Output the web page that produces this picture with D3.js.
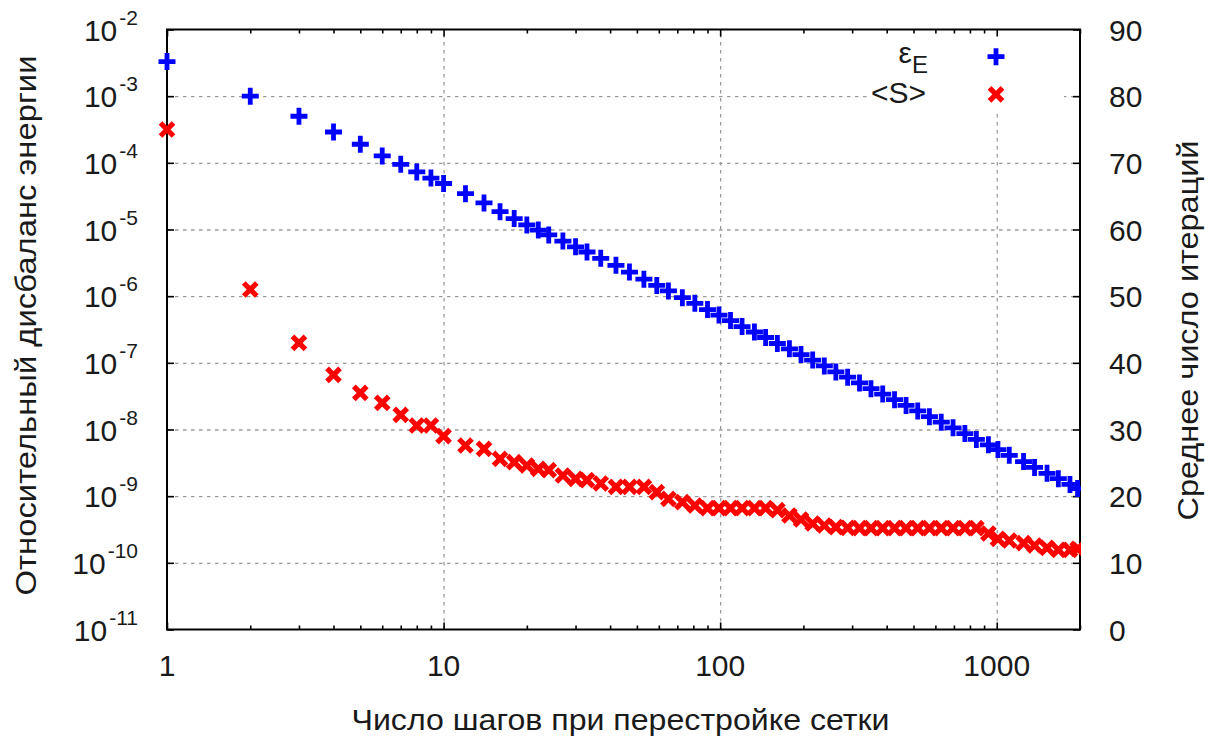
<!DOCTYPE html>
<html>
<head>
<meta charset="utf-8">
<script src="https://cdn.jsdelivr.net/npm/d3@7/dist/d3.min.js"></script>
<style>
  body { margin: 0; background: #fff; }
  text { font-family: 'Liberation Sans', Arial, sans-serif; fill: #1a1a1a; }
  .grid line { stroke: #9a9a9a; stroke-width: 1.3; stroke-dasharray: 3.5, 4.5; }
  .grid path { display: none; }
  .axis path { display: none; }
  .axis line { stroke: #000; stroke-width: 1.6; }
</style>
</head>
<body>
<svg id="chart"></svg>
<script>
// x: number of steps between mesh rebuilds
var steps = [1, 2, 3, 4, 5, 6, 7, 8, 9, 10,
  12, 14, 16, 18, 20, 22, 24, 27, 30, 33,
  37, 42, 47, 53, 59, 65, 73, 81,
  90, 99, 109, 120, 133, 146, 161, 178, 196, 216,
  238, 262, 289, 319, 351, 387, 427, 470, 518, 571,
  630, 695, 767, 844, 933, 1010, 1110, 1250, 1370, 1520,
  1670, 1840, 1960];

// eps_E, left (log) axis
var energyImbalance = [3.3e-3, 1.0e-3, 5.0e-4, 2.9e-4, 1.9e-4, 1.27e-4, 9.5e-5, 7.3e-5, 5.9e-5, 4.9e-5,
  3.45e-5, 2.5e-5, 1.85e-5, 1.46e-5, 1.17e-5, 9.8e-6, 8.3e-6, 6.7e-6, 5.5e-6, 4.6e-6,
  3.7e-6, 2.9e-6, 2.3e-6, 1.8e-6, 1.45e-6, 1.2e-6, 9.5e-7, 7.8e-7,
  6.3e-7, 5.2e-7, 4.3e-7, 3.5e-7, 2.9e-7, 2.4e-7, 1.95e-7, 1.62e-7, 1.33e-7, 1.1e-7,
  9.0e-8, 7.3e-8, 6.1e-8, 5.0e-8, 4.1e-8, 3.4e-8, 2.8e-8, 2.3e-8, 1.9e-8, 1.56e-8,
  1.29e-8, 1.06e-8, 8.7e-9, 7.1e-9, 5.9e-9, 5.0e-9, 4.1e-9, 3.3e-9, 2.7e-9, 2.2e-9,
  1.83e-9, 1.5e-9, 1.3e-9];

// <S>, right (linear) axis
var meanIterations = [75, 51, 43, 38.2, 35.5, 34.0, 32.2, 30.6, 30.6, 29.0,
  27.6, 27.1, 25.6, 25.1, 24.6, 24.1, 23.9, 23.1, 22.6, 22.4,
  21.9, 21.4, 21.4, 21.4, 20.6, 19.6, 19.1, 18.6,
  18.2, 18.2, 18.2, 18.2, 18.2, 18.2, 17.9, 17.1, 16.5, 15.9,
  15.6, 15.35, 15.25, 15.2, 15.2, 15.2, 15.2, 15.2, 15.2, 15.2,
  15.2, 15.2, 15.2, 15.2, 14.4, 13.6, 13.35, 12.95, 12.6, 12.25,
  11.95, 11.95, 12.1];

var xTickLabels = [1, 10, 100, 1000];
var yLeftExponents = [-11, -10, -9, -8, -7, -6, -5, -4, -3, -2];
var yRightTicks = [0, 10, 20, 30, 40, 50, 60, 70, 80, 90];

var xTitle = 'Число шагов при перестройке сетки';
var yLeftTitle = 'Относительный дисбаланс энергии';
var yRightTitle = 'Среднее число итераций';


var margin = {top: 29.5, right: 139, bottom: 110.5, left: 167};
var fullWidth = 1219;
var fullHeight = 740;
var width = fullWidth - margin.left - margin.right;
var height = fullHeight - margin.top - margin.bottom;

var xScale = d3.scaleLog()
  .domain([1, 2000])
  .range([0, width]);

var yScale = d3.scaleLog()
  .domain([1e-11, 1e-2])
  .range([height, 0]);

var y2Scale = d3.scaleLinear()
  .domain([0, 90])
  .range([height, 0]);

var yDecades = yLeftExponents.map(function(e) { return Math.pow(10, e); });
var xMinor = xScale.ticks().filter(function(v) { return xTickLabels.indexOf(v) == -1; });

var svg = d3.select('#chart')
  .attr('width', fullWidth)
  .attr('height', fullHeight)
  .append('g')
  .attr('transform', `translate(${margin.left},${margin.top})`);

// grid
svg.append('g')
  .attr('class', 'grid x')
  .attr('transform', `translate(0,${height})`)
  .call(d3.axisBottom(xScale)
    .tickValues(xTickLabels.slice(1))
    .tickSize(-height)
    .tickFormat(''));

svg.append('g')
  .attr('class', 'grid y')
  .call(d3.axisLeft(yScale)
    .tickValues(yDecades.slice(1, -1))
    .tickSize(-width)
    .tickFormat(''));

// legend background hides the grid behind it
svg.append('rect')
  .attr('x', 703)
  .attr('y', 1)
  .attr('width', 194)
  .attr('height', 82)
  .attr('fill', '#fff');

// ticks (inward)
svg.append('g').attr('class', 'axis x')
  .attr('transform', `translate(0,${height})`)
  .call(d3.axisBottom(xScale).tickValues(xTickLabels).tickSize(-7).tickFormat(''));
svg.append('g').attr('class', 'axis x')
  .attr('transform', `translate(0,${height})`)
  .call(d3.axisBottom(xScale).tickValues(xMinor).tickSize(-4).tickFormat(''));
svg.append('g').attr('class', 'axis x')
  .call(d3.axisTop(xScale).tickValues(xTickLabels).tickSize(-7).tickFormat(''));
svg.append('g').attr('class', 'axis x')
  .call(d3.axisTop(xScale).tickValues(xMinor).tickSize(-4).tickFormat(''));
svg.append('g').attr('class', 'axis y')
  .call(d3.axisLeft(yScale).tickValues(yDecades).tickSize(-7).tickFormat(''));
svg.append('g').attr('class', 'axis y2')
  .attr('transform', `translate(${width},0)`)
  .call(d3.axisRight(y2Scale).tickValues(yRightTicks).tickSize(-7).tickFormat(''));

svg.append('rect')
  .attr('width', width)
  .attr('height', height)
  .attr('fill', 'none')
  .attr('stroke', '#000')
  .attr('stroke-width', 2);

// tick labels
var yLabels = svg.append('g').selectAll('text')
  .data(yLeftExponents)
  .enter().append('text')
  .attr('x', -29)
  .attr('y', function(d) { return yScale(Math.pow(10, d)) + 11; })
  .attr('text-anchor', 'end')
  .style('font-size', '30px');
yLabels.append('tspan').text('10');
yLabels.append('tspan')
  .attr('dx', 2)
  .attr('dy', -16)
  .style('font-size', '21px')
  .text(function(d) { return '-' + Math.abs(d); });

svg.append('g').selectAll('text')
  .data(yRightTicks)
  .enter().append('text')
  .attr('x', width + 29)
  .attr('y', function(d) { return y2Scale(d) + 11; })
  .style('font-size', '30px')
  .text(function(d) { return d; });

svg.append('g').selectAll('text')
  .data(xTickLabels)
  .enter().append('text')
  .attr('x', function(d) { return xScale(d); })
  .attr('y', height + 46)
  .attr('text-anchor', 'middle')
  .style('font-size', '30px')
  .text(function(d) { return d; });

// axis titles
svg.append('text')
  .attr('x', width / 2 - 3)
  .attr('y', height + 100)
  .attr('text-anchor', 'middle')
  .attr('textLength', 538)
  .attr('lengthAdjust', 'spacingAndGlyphs')
  .style('font-size', '29px')
  .text(xTitle);

svg.append('text')
  .attr('transform', `translate(-131,${height / 2 - 4}) rotate(-90)`)
  .attr('text-anchor', 'middle')
  .attr('textLength', 540)
  .attr('lengthAdjust', 'spacingAndGlyphs')
  .style('font-size', '29px')
  .text(yLeftTitle);

svg.append('text')
  .attr('transform', `translate(${width + 118},${height / 2 + 1}) rotate(-90)`)
  .attr('text-anchor', 'middle')
  .attr('textLength', 380)
  .attr('lengthAdjust', 'spacingAndGlyphs')
  .style('font-size', '29px')
  .text(yRightTitle);

// markers
var plusPath = 'M-8.5,0H8.5M0,-8.5V8.5';
var crossPath = 'M-6.5,-6.5L6.5,6.5M-6.5,6.5L6.5,-6.5';

var points = steps.map(function(s, i) {
  return {x: s, e: energyImbalance[i], s: meanIterations[i]};
});

svg.append('defs').append('clipPath')
  .attr('id', 'clip')
  .append('rect')
  .attr('x', -14)
  .attr('y', -14)
  .attr('width', width + 15)
  .attr('height', height + 28);

var dataArea = svg.append('g').attr('clip-path', 'url(#clip)');

dataArea.append('g').selectAll('path')
  .data(points)
  .enter().append('path')
  .attr('d', plusPath)
  .attr('transform', function(d) { return `translate(${xScale(d.x)},${yScale(d.e)})`; })
  .attr('stroke', '#0000ff')
  .attr('stroke-width', 4.8)
  .attr('fill', 'none');

dataArea.append('g').selectAll('path')
  .data(points)
  .enter().append('path')
  .attr('d', crossPath)
  .attr('transform', function(d) { return `translate(${xScale(d.x)},${y2Scale(d.s)})`; })
  .attr('stroke', '#ff0000')
  .attr('stroke-width', 5.2)
  .attr('fill', 'none');

// legend
var legend = svg.append('g').attr('class', 'legend');
var epsLabel = legend.append('text')
  .attr('x', 761)
  .attr('y', 33.5)
  .attr('text-anchor', 'end')
  .style('font-size', '30px');
epsLabel.append('tspan').text('ε');
epsLabel.append('tspan').attr('dy', 10).style('font-size', '24px').text('E');

legend.append('text')
  .attr('x', 759)
  .attr('y', 73.5)
  .attr('text-anchor', 'end')
  .style('font-size', '30px')
  .text('<S>');

legend.append('path')
  .attr('d', plusPath)
  .attr('transform', 'translate(829,27.2)')
  .attr('stroke', '#0000ff')
  .attr('stroke-width', 4.8)
  .attr('fill', 'none');

legend.append('path')
  .attr('d', crossPath)
  .attr('transform', 'translate(829,64.8)')
  .attr('stroke', '#ff0000')
  .attr('stroke-width', 5.2)
  .attr('fill', 'none');
</script>
</body>
</html>
